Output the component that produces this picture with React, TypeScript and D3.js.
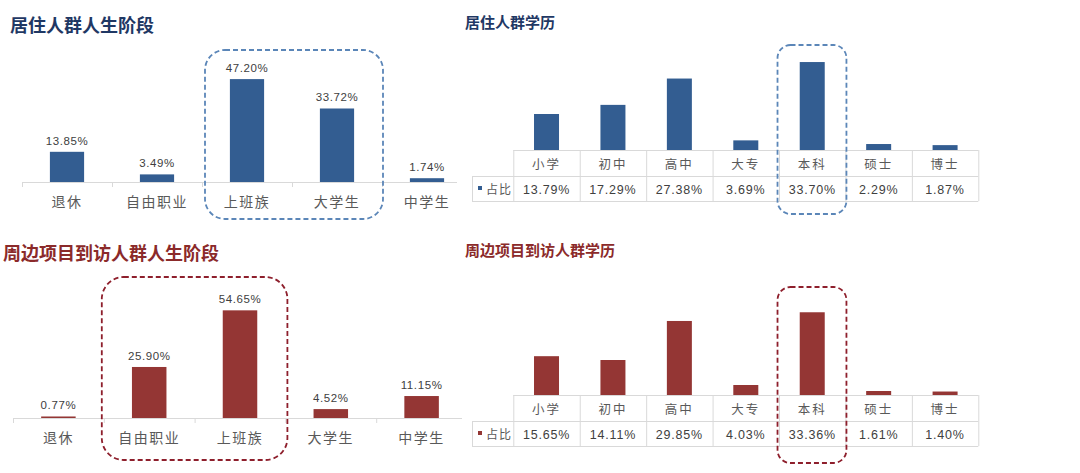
import React from 'react';
import * as d3 from 'd3';

const stageCats = ['退休', '自由职业', '上班族', '大学生', '中学生'];
const residentStage = [13.85, 3.49, 47.2, 33.72, 1.74];
const visitorStage = [0.77, 25.9, 54.65, 4.52, 11.15];

const eduCats = ['小学', '初中', '高中', '大专', '本科', '硕士', '博士'];
const residentEdu = [13.79, 17.29, 27.38, 3.69, 33.7, 2.29, 1.87];
const visitorEdu = [15.65, 14.11, 29.85, 4.03, 33.36, 1.61, 1.4];

const legendLabel = '占比';

const BLUE = '#335d91';
const RED = '#943634';
const BLUE_DASH = '#5b86b8';
const RED_DASH = '#8e1f2c';
const GRID = '#d9d9d9';
const TEXT = '#404040';
const LABEL = '#595959';
const CJK = '"Noto Sans CJK SC", "Noto Sans", sans-serif';
const NUM = '"Liberation Sans", Arial, sans-serif';

type StageProps = {
  title: string;
  titleX: number;
  titleY: number;
  titleColor: string;
  values: number[];
  color: string;
  x0: number;
  x1: number;
  axisEnd: number;
  baseline: number;
  ppu: number;
  hl: [number, number];
  box: { dx0: number; dx1: number; y0: number; y1: number; r: number; color: string };
};

function StagePanel(p: StageProps) {
  const x = d3.scaleBand<string>().domain(stageCats).range([p.x0, p.x1]).padding(0);
  const y = d3.scaleLinear().domain([0, 60]).range([p.baseline, p.baseline - 60 * p.ppu]);
  const step = x.step();
  const bw = step * 0.38;
  const bx0 = (x(stageCats[p.hl[0]]) as number) + p.box.dx0;
  const bx1 = (x(stageCats[p.hl[1]]) as number) + step + p.box.dx1;
  return (
    <g>
      <text x={p.titleX} y={p.titleY} fontFamily={CJK} fontWeight={700} fontSize={18} fill={p.titleColor}>
        {p.title}
      </text>
      <line x1={p.x0} x2={p.axisEnd} y1={p.baseline + 0.5} y2={p.baseline + 0.5} stroke={GRID} strokeWidth={1} />
      {stageCats.map((c) => (
        <line key={'t' + c} x1={(x(c) as number) + 0.5} x2={(x(c) as number) + 0.5} y1={p.baseline} y2={p.baseline + 5} stroke={GRID} />
      ))}
      {stageCats.map((c, i) => {
        const cx = (x(c) as number) + step / 2;
        const v = p.values[i];
        return (
          <g key={c}>
            <rect x={cx - bw / 2} y={y(v)} width={bw} height={p.baseline - y(v)} fill={p.color} />
            <text x={cx} y={y(v) - 7} textAnchor="middle" fontFamily={NUM} fontSize={11.5} fill={TEXT} letterSpacing={0.6}>
              {v.toFixed(2) + '%'}
            </text>
            <text x={cx} y={p.baseline + 25} textAnchor="middle" fontFamily={CJK} fontSize={14} fill={LABEL} letterSpacing={1.5}>
              {c}
            </text>
          </g>
        );
      })}
      <rect x={bx0} y={p.box.y0} width={bx1 - bx0} height={p.box.y1 - p.box.y0} rx={p.box.r} ry={p.box.r}
        fill="none" stroke={p.box.color} strokeWidth={1.8} strokeDasharray="5 3" />
    </g>
  );
}

type EduProps = {
  title: string;
  titleY: number;
  titleColor: string;
  values: number[];
  color: string;
  baseline: number;
  ppu: number;
  box: { y0: number; y1: number; color: string };
};

function EduPanel(p: EduProps) {
  const colX0 = 513.3;
  const colX1 = 978.3;
  const legX = 472;
  const x = d3.scaleBand<string>().domain(eduCats).range([colX0, colX1]).padding(0);
  const y = d3.scaleLinear().domain([0, 40]).range([p.baseline, p.baseline - 40 * p.ppu]);
  const step = x.step();
  const bw = 25;
  const r1 = p.baseline + 26;
  const r2 = p.baseline + 51;
  const hi = x('本科') as number;
  return (
    <g>
      <text x={465} y={p.titleY} fontFamily={CJK} fontWeight={700} fontSize={15} fill={p.titleColor}>
        {p.title}
      </text>
      {eduCats.map((c, i) => {
        const cx = (x(c) as number) + step / 2;
        const v = p.values[i];
        return (
          <g key={c}>
            <rect x={cx - bw / 2} y={y(v)} width={bw} height={p.baseline - y(v)} fill={p.color} />
            <text x={cx} y={p.baseline + 19} textAnchor="middle" fontFamily={CJK} fontSize={12.5} fill={LABEL} letterSpacing={2}>
              {c}
            </text>
            <text x={cx} y={p.baseline + 44} textAnchor="middle" fontFamily={NUM} fontSize={12.5} fill={TEXT} letterSpacing={0.8}>
              {v.toFixed(2) + '%'}
            </text>
          </g>
        );
      })}
      <line x1={colX0} x2={colX1} y1={p.baseline + 0.5} y2={p.baseline + 0.5} stroke={GRID} />
      <line x1={legX} x2={colX1} y1={r1 + 0.5} y2={r1 + 0.5} stroke={GRID} />
      <line x1={legX} x2={colX1} y1={r2 + 0.5} y2={r2 + 0.5} stroke={GRID} />
      <line x1={legX + 0.5} x2={legX + 0.5} y1={r1} y2={r2} stroke={GRID} />
      {eduCats.map((c) => (
        <line key={'v' + c} x1={(x(c) as number) + 0.5} x2={(x(c) as number) + 0.5} y1={p.baseline} y2={r2} stroke={GRID} />
      ))}
      <line x1={colX1 + 0.5} x2={colX1 + 0.5} y1={p.baseline} y2={r2} stroke={GRID} />
      <rect x={legX + 6} y={r1 + 10} width={4} height={4} fill={p.color} />
      <text x={legX + 14} y={r1 + 18} fontFamily={CJK} fontSize={12} fill={LABEL} letterSpacing={1}>
        {legendLabel}
      </text>
      <rect x={hi - 1.5} y={p.box.y0} width={step + 2.5} height={p.box.y1 - p.box.y0} rx={13} ry={13}
        fill="none" stroke={p.box.color} strokeWidth={1.8} strokeDasharray="5 3" />
    </g>
  );
}

export default function App() {
  return (
    <svg width={1080} height={473} style={{ position: 'absolute', left: 0, top: 0, background: '#fff' }}>
      <rect x={0} y={0} width={1080} height={473} fill="#fff" />
      <StagePanel
        title="居住人群人生阶段"
        titleX={10}
        titleY={32}
        titleColor="#1f3864"
        values={residentStage}
        color={BLUE}
        x0={22}
        x1={472}
        axisEnd={457}
        baseline={182}
        ppu={2.18}
        hl={[2, 3]}
        box={{ dx0: 3, dx1: 1, y0: 50, y1: 219, r: 20, color: BLUE_DASH }}
      />
      <EduPanel
        title="居住人群学历"
        titleY={28}
        titleColor="#1f3864"
        values={residentEdu}
        color={BLUE}
        baseline={150}
        ppu={2.61}
        box={{ y0: 45, y1: 214, color: BLUE_DASH }}
      />
      <StagePanel
        title="周边项目到访人群人生阶段"
        titleX={3}
        titleY={260}
        titleColor="#8b2a2a"
        values={visitorStage}
        color={RED}
        x0={13}
        x1={467}
        axisEnd={462}
        baseline={418}
        ppu={1.97}
        hl={[1, 2]}
        box={{ dx0: -2, dx1: 2, y0: 277, y1: 460, r: 22, color: RED_DASH }}
      />
      <EduPanel
        title="周边项目到访人群学历"
        titleY={256}
        titleColor="#8b2a2a"
        values={visitorEdu}
        color={RED}
        baseline={395}
        ppu={2.48}
        box={{ y0: 287, y1: 463, color: RED_DASH }}
      />
    </svg>
  );
}
